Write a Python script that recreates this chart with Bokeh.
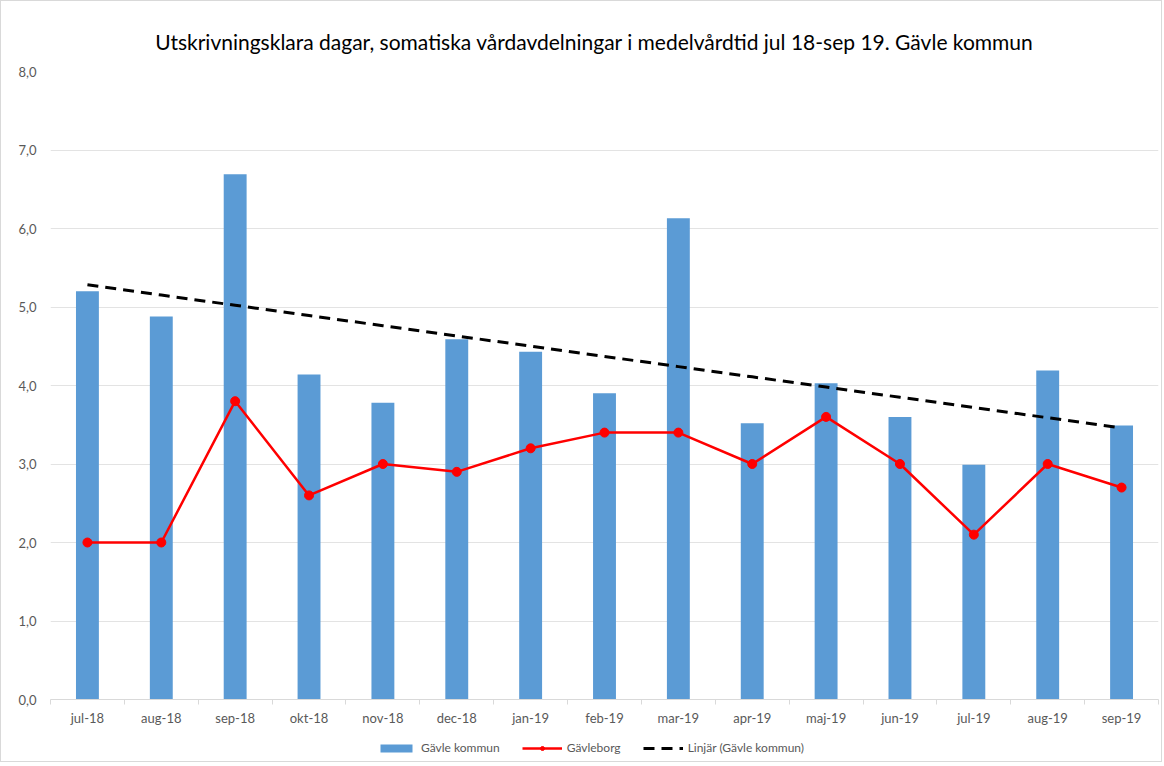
import numpy as np
from bokeh.plotting import figure
from bokeh.layouts import column
from bokeh.models import FixedTicker, Legend, LegendItem, ColumnDataSource, Range1d, Div
from bokeh.embed import file_html
from bokeh.resources import INLINE

months = ["jul-18", "aug-18", "sep-18", "okt-18", "nov-18", "dec-18", "jan-19", "feb-19",
          "mar-19", "apr-19", "maj-19", "jun-19", "jul-19", "aug-19", "sep-19"]
gavle_kommun = [5.20, 4.88, 6.69, 4.14, 3.78, 4.59, 4.43, 3.90, 6.13, 3.52, 4.03, 3.60, 2.99, 4.19, 3.49]
gavleborg = [2.0, 2.0, 3.8, 2.6, 3.0, 2.9, 3.2, 3.4, 3.4, 3.0, 3.6, 3.0, 2.1, 3.0, 2.7]
y_ticks = [0, 1, 2, 3, 4, 5, 6, 7, 8]
series_names = ["Gävle kommun", "Gävleborg", "Linjär (Gävle kommun)"]

title = "Utskrivningsklara dagar, somatiska vårdavdelningar i medelvårdtid jul 18-sep 19. Gävle kommun"

xs = list(range(len(months)))
slope, intercept = np.polyfit(xs, gavle_kommun, 1)
trend = [slope * x + intercept for x in xs]

src = ColumnDataSource(dict(x=xs, bar=gavle_kommun, red=gavleborg, trend=trend))

FONT = "Lato"
BLUE = "#5B9BD5"
RED = "#FF0000"
DASH = "11 7"
W = 1160

title_div = Div(
    text=(f'<div style="width:{W}px;box-sizing:border-box;text-align:center;'
          f'font-family:Lato;font-size:21px;line-height:24px;color:#000;'
          f'padding-top:29px;padding-left:26px;white-space:nowrap">{title}</div>'),
    width=W, height=60, margin=0)

p = figure(width=W, height=672, output_backend="svg", toolbar_location=None,
           x_range=Range1d(-0.5, len(months) - 0.5), y_range=Range1d(0, 8),
           min_border_left=49, min_border_right=3, min_border_top=10, min_border_bottom=34)
p.outline_line_color = None
p.background_fill_color = "white"
p.border_fill_color = "white"

bars = p.vbar(x="x", top="bar", width=0.31, source=src, fill_color=BLUE, line_color=None)
tr = p.line(x="x", y="trend", source=src, line_color="black", line_width=3, line_dash=DASH)
rl = p.line(x="x", y="red", source=src, line_color=RED, line_width=2.5)
rm = p.scatter(x="x", y="red", source=src, size=9, fill_color=RED, line_color=RED)

xa = p.xaxis[0]
xa.ticker = FixedTicker(ticks=xs, minor_ticks=[x - 0.5 for x in xs] + [xs[-1] + 0.5])
xa.major_label_overrides = {i: m for i, m in enumerate(months)}
xa.major_tick_out = 0
xa.major_tick_in = 0
xa.minor_tick_out = 5
xa.minor_tick_in = 0
xa.minor_tick_line_color = "#D9D9D9"
xa.axis_line_color = "#D9D9D9"
xa.major_label_text_font = FONT
xa.major_label_text_font_size = "13px"
xa.major_label_text_color = "#595959"
xa.major_label_standoff = 5

ya = p.yaxis[0]
ya.ticker = FixedTicker(ticks=y_ticks)
ya.major_label_overrides = {t: f"{t},0" for t in y_ticks}
ya.axis_line_color = None
ya.major_tick_line_color = None
ya.minor_tick_line_color = None
ya.major_label_text_font = FONT
ya.major_label_text_font_size = "13px"
ya.major_label_text_color = "#595959"
ya.major_label_standoff = 8

p.xgrid.grid_line_color = None
p.ygrid.grid_line_color = "#E3E3E3"
p.ygrid.grid_line_width = 1

# legend strip: same series drawn again, but outside this strip's visible range
lf = figure(width=W, height=28, output_backend="svg", toolbar_location=None,
            x_range=Range1d(100, 101), y_range=Range1d(100, 101), x_axis_type=None, y_axis_type=None,
            min_border_left=0, min_border_right=0, min_border_top=0, min_border_bottom=0)
lf.outline_line_color = None
lf.xgrid.grid_line_color = None
lf.ygrid.grid_line_color = None
lb = lf.vbar(x="x", top="bar", width=0.31, source=src, fill_color=BLUE, line_color=None)
lrl = lf.line(x="x", y="red", source=src, line_color=RED, line_width=2.5)
lrm = lf.scatter(x="x", y="red", source=src, size=9, fill_color=RED, line_color=RED)
ltr = lf.line(x="x", y="trend", source=src, line_color="black", line_width=3, line_dash=DASH)

legend = Legend(items=[
    LegendItem(label=series_names[0], renderers=[lb]),
    LegendItem(label=series_names[1], renderers=[lrl, lrm]),
    LegendItem(label=series_names[2], renderers=[ltr]),
], orientation="horizontal", location=(326, 6))
legend.label_text_font = FONT
legend.label_text_font_size = "12px"
legend.label_text_color = "#595959"
legend.glyph_width = 40
legend.glyph_height = 10
legend.spacing = 22
legend.padding = 2
legend.margin = 0
legend.border_line_color = None
legend.background_fill_alpha = 0
lf.add_layout(legend, "center")

layout = column(title_div, p, lf, spacing=0)
layout.styles = {"border": "1px solid #D9D9D9", "background-color": "white"}

open("out.html", "w").write(file_html(layout, INLINE))
